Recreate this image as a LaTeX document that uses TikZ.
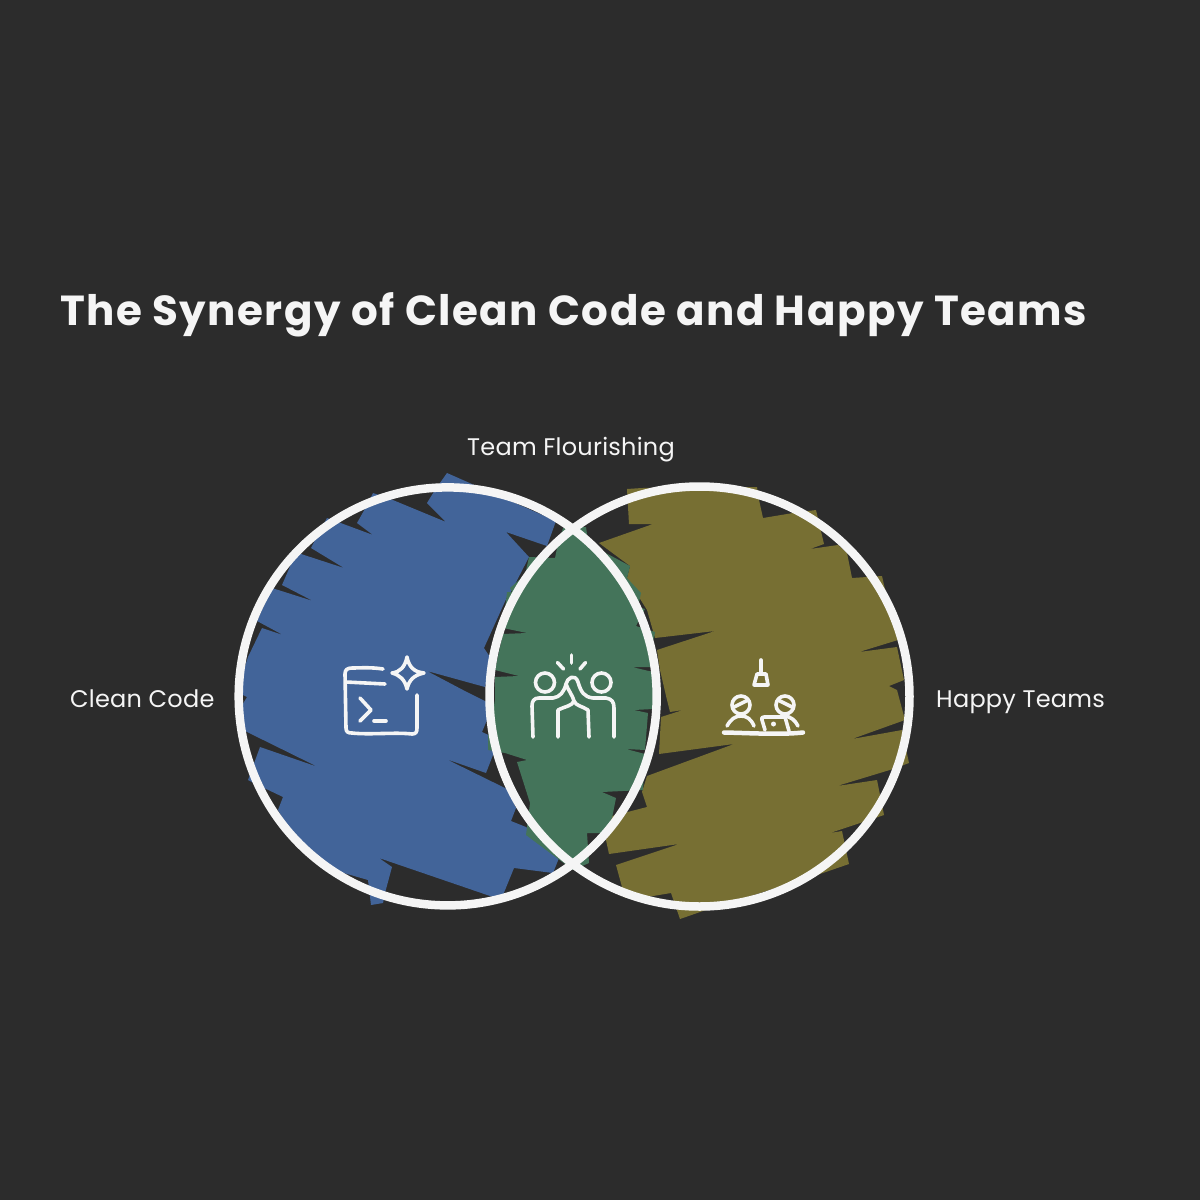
\documentclass[tikz,border=0pt]{standalone}
\usepackage{fontspec}
\setmainfont{Poppins}
\newfontfamily\titlefont[LetterSpace=3.5]{Poppins}
\newfontfamily\labelfont[LetterSpace=1]{Poppins}
\definecolor{pagedark}{RGB}{44,44,44}
\definecolor{cleanblue}{RGB}{66,100,153}
\definecolor{flourishgreen}{RGB}{68,116,90}
\definecolor{happyolive}{RGB}{119,111,51}
\definecolor{ringwhite}{RGB}{245,245,245}

\begin{document}
\begin{tikzpicture}[x=1pt,y=-1pt,
            vennring/.style={draw=ringwhite,line width=8.5pt},
            iconline/.style={draw=ringwhite,line width=3.6pt,line cap=round,line join=round},
            labeltext/.style={text=ringwhite,anchor=base west,inner sep=0pt,font=\labelfont\fontsize{24}{28}\selectfont},
            titletext/.style={text=ringwhite,anchor=base west,inner sep=0pt,font=\titlefont\bfseries\fontsize{42}{50}\selectfont}]
        \fill[pagedark] (0,0) rectangle (1200,1200);
        \fill[cleanblue] (447,473) -- (556,521) -- (547,546) -- (506,532) -- (529,557)
          -- (512,590) -- (507,597) -- (484,648) -- (492,660) -- (485,687) -- (427,671)
          -- (463,690) -- (487,702) -- (487,720) -- (482,732) -- (495,738) -- (493,755)
          -- (486,773) -- (446,759) -- (507,789) -- (516,808) -- (511,821) -- (526,827)
          -- (559,858) -- (553,873) -- (514,868) -- (503,895) -- (493,897) -- (379,858)
          -- (392,867) -- (385,893) -- (383,903) -- (371,905) -- (368,880) -- (330,869)
          -- (295,840) -- (278,810) -- (283,797) -- (262,787) -- (248,780) -- (260,747)
          -- (318,767) -- (243,730) -- (241,707) -- (247,697) -- (241,694) -- (242,675)
          -- (248,657) -- (262,628) -- (283,635) -- (257,621) -- (272,588) -- (313,601)
          -- (282,585) -- (292,562) -- (298,553) -- (344,568) -- (311,548) -- (317,536)
          -- (327,518) -- (338,522) -- (373,535) -- (357,523) -- (366,507) -- (373,493)
          -- (388,498) -- (446,522) -- (427,503) -- (435,490) -- cycle;
        \fill[happyolive] (627,489) -- (642,488) -- (757,487) -- (759,500) -- (763,518)
          -- (793,513) -- (816,510) -- (824,544) -- (810,549) -- (838,545) -- (847,553)
          -- (852,578) -- (882,576) -- (884,585) -- (898,640) -- (859,652) -- (897,647)
          -- (904,680) -- (889,686) -- (897,690) -- (905,720) -- (852,739) -- (902,730)
          -- (909,763) -- (893,769) -- (837,786) -- (877,780) -- (884,815) -- (863,822)
          -- (830,833) -- (842,831) -- (849,864) -- (820,874) -- (703,911) -- (680,919)
          -- (671,893) -- (653,896) -- (625,898) -- (616,865) -- (679,844) -- (609,854)
          -- (606,840) -- (612,816) -- (647,807) -- (642,792) -- (647,776) -- (734,744)
          -- (659,754) -- (661,717)
          -- (683,710) -- (670,712) -- (667,700) -- (660,670) -- (657,650) -- (715,631)
          -- (655,638) -- (647,610) -- (627,578) -- (630,566) -- (599,543) -- (653,524)
          -- (629,524) -- cycle;
        \fill[flourishgreen] (563,528) -- (586,527) -- (588,541) -- (604,552) -- (630,566) -- (627,578)
          -- (641,593) -- (638,607) -- (645,609) -- (636,626) -- (655,632) -- (654,638) -- (650,645) -- (652,667)
          -- (632,667) -- (653,672) -- (653,709) -- (634,710) -- (648,713) -- (645,750)
          -- (626,749) -- (645,754) -- (643,790) -- (602,792) -- (616,798) -- (612,818)
          -- (603,833) -- (587,833) -- (589,863) -- (573,870) -- (526,835) -- (530,803)
          -- (517,762) -- (527,760) -- (505,753) -- (488,750) -- (488,737) -- (495,700)
          -- (495,677) -- (519,676) -- (495,670) -- (503,634) -- (527,633) -- (503,628)
          -- (507,592) -- (512,592) -- (510,588) -- (525,575) -- (529,557) -- (555,558)
          -- (557,548) -- cycle;
        \draw[vennring] (447.7,696.4) circle [radius=209];
        \draw[vennring] (699.5,696.5) circle [radius=210];
        % terminal
        \draw[iconline] (383,669) .. controls (370,667) and (360,668) .. (352,668)
          .. controls (347,668) and (345,670) .. (345,674) -- (346,728)
          .. controls (346,732) and (348,733) .. (352,733)
          .. controls (370,735) and (395,732) .. (412,734)
          .. controls (416,734) and (417,732) .. (417,728) -- (417,695);
        \draw[iconline] (346,682) -- (385,684);
        \draw[iconline] (360,698) -- (371,710) -- (360,721);
        \draw[iconline] (374,721) -- (386,721);
        \draw[iconline] (407,657) .. controls (409,667) and (414,672) .. (424,673)
          .. controls (414,675) and (409,680) .. (407,689)
          .. controls (405,680) and (400,675) .. (392,673)
          .. controls (400,672) and (405,667) .. (407,657) -- cycle;
        % high five
        \draw[iconline] (545,682.5) circle [radius=9.5];
        \draw[iconline] (601.5,682.5) circle [radius=9.5];
        \draw[iconline] (571.5,655) -- (571.5,663);
        \draw[iconline] (557.5,662.5) -- (563.5,669);
        \draw[iconline] (585.5,662.5) -- (580,669);
        \draw[iconline] (533,737) -- (532,706) .. controls (532,701) and (534,698) .. (539,698)
          -- (553,698) .. controls (560,697) and (564,692) .. (566,684)
          .. controls (567,678) and (575,673) .. (578,682)
          .. controls (581,692) and (584,697) .. (593,698) -- (606,698)
          .. controls (612,699) and (614,702) .. (614,708) -- (614,737);
        \draw[iconline] (558,737) -- (558,710) .. controls (566,706) and (572,706) .. (574,701)
          .. controls (573,696) and (568,690) .. (566,684);
        \draw[iconline] (574,701) .. controls (576,706) and (582,706) .. (588,710) -- (589,737);
        % team with laptop
        \draw[iconline] (761,660) -- (761,673);
        \draw[iconline] (757,674) -- (766,674) -- (768,685) -- (754,685) -- cycle;
        \draw[iconline] (741,705) circle [radius=9];
        \draw[iconline] (785,705) circle [radius=9];
        \draw[iconline] (734,707) -- (748,700);
        \draw[iconline] (778,700) -- (792,707);
        \draw[iconline] (727,726) .. controls (731,719) and (735,716) .. (741,716)
          .. controls (747,716) and (751,719) .. (754,726);
        \draw[iconline] (785,716) .. controls (791,717) and (795,720) .. (798,726);
        \draw[iconline] (765,730) -- (762,720) .. controls (761,718) and (762,717) .. (764,717)
          -- (785,717) -- (789,731);
        \fill[ringwhite] (773.5,724) circle [radius=2.5];
        \draw[iconline,line width=4.5pt] (724,732.5) .. controls (750,733) and (780,735) .. (803,732.5);
        \node[titletext] (synergytitle) at (60,325) {The Synergy of Clean Code and Happy Teams};
        \node[labeltext] (flourishlabel) at (467,455) {Team Flourishing};
        \node[labeltext] (cleanlabel) at (70,707) {Clean Code};
        \node[labeltext] (happylabel) at (936,707) {Happy Teams};
\end{tikzpicture}
\end{document}
